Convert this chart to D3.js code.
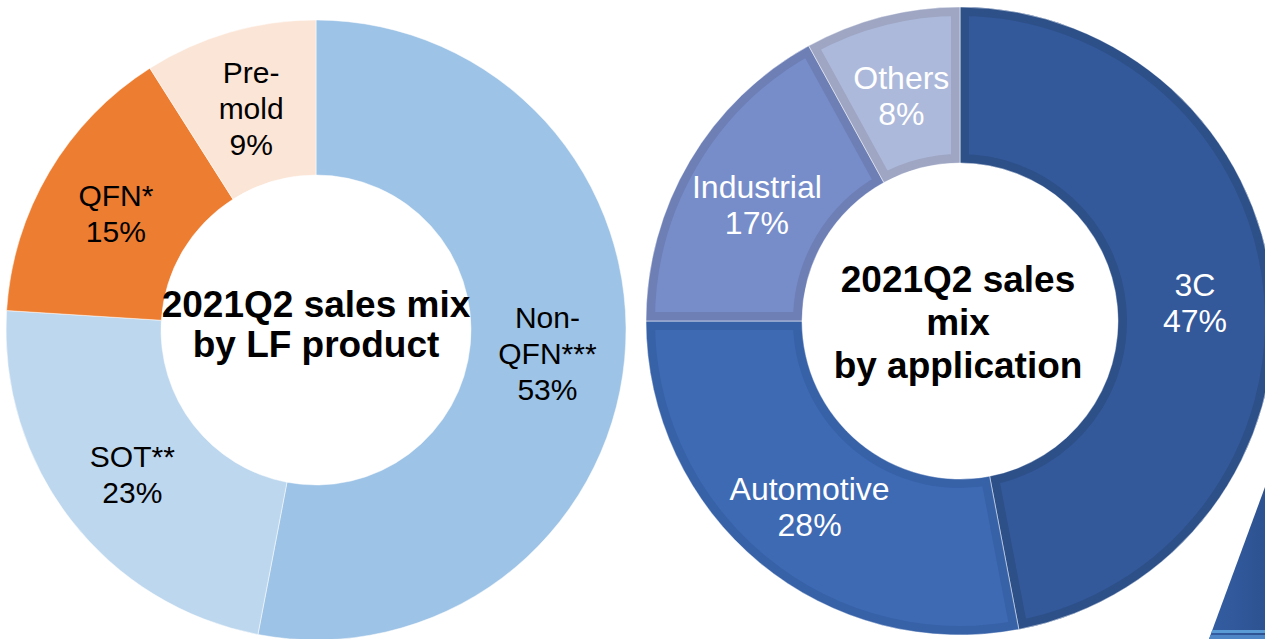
<!DOCTYPE html>
<html>
<head>
    <title>2021Q2 sales mix</title>
    <style type="text/css">
        html, body {
            margin: 0;
            padding: 0;
            background: #ffffff;
            overflow: hidden;
        }

        text {
            font-family: "Liberation Sans", Arial, sans-serif;
        }

        .slice-label {
            font-size: 30px;
            text-anchor: middle;
        }

        .center-title {
            font-size: 37px;
            font-weight: bold;
            text-anchor: middle;
            fill: #000;
        }
    </style>
</head>
<body>
    <div id="chart"></div>
    <script src="https://d3js.org/d3.v7.min.js"></script>
    <script>

      //  Left donut: sales mix by leadframe product
      var lfCategories = ["Non-QFN***", "SOT**", "QFN*", "Pre-mold"];
      var lfShares = [53, 23, 15, 9];
      var lfLabelLines = [["Non-", "QFN***"], ["SOT**"], ["QFN*"], ["Pre-", "mold"]];
      var lfColors = ["#9dc3e6", "#bdd7ee", "#ed7d31", "#fbe5d6"];

      //  Right donut: sales mix by application
      var appCategories = ["3C", "Automotive", "Industrial", "Others"];
      var appShares = [47, 28, 17, 8];
      var appColors = ["#34599a", "#3e6ab4", "#778dca", "#adb9db"];
      var appBorders = ["#2d5089", "#3762a8", "#6e7fb6", "#9ea6c3"];

      var width = 1265,
          height = 639;

      var svg = d3.select("#chart")
                  .append("svg")
                  .attr("width", width)
                  .attr("height", height);

      var defs = svg.append("defs");

      var pie = d3.pie()
                  .sort(null)
                  .value(function (d) { return d.value; });

      //  ---------- left donut ----------
      var lfData = lfCategories.map(function (c, i) {
        return { name: c, value: lfShares[i], lines: lfLabelLines[i], color: lfColors[i] };
      });

      var lfArc = d3.arc().innerRadius(155).outerRadius(310);

      var left = svg.append("g").attr("transform", "translate(316,330)");

      left.selectAll("path.slice")
          .data(pie(lfData))
          .enter().append("path")
          .attr("class", "slice")
          .attr("d", lfArc)
          .attr("fill", function (d) { return d.data.color; })
          .attr("stroke", "#ffffff")
          .attr("stroke-width", 0.5);

      left.selectAll("text.slice-label")
          .data(pie(lfData))
          .enter().append("text")
          .attr("class", "slice-label")
          .attr("fill", "#000")
          .each(function (d) {
            var c = lfArc.centroid(d),
                lines = d.data.lines.concat([d.data.value + "%"]),
                n = lines.length,
                t = d3.select(this);
            lines.forEach(function (line, k) {
              t.append("tspan")
               .attr("x", c[0])
               .attr("y", c[1] + (k - (n - 1) / 2) * 36 + 12)
               .text(line);
            });
          });

      var leftTitle = ["2021Q2 sales mix", "by LF product"];
      left.selectAll("text.center-title")
          .data(leftTitle)
          .enter().append("text")
          .attr("class", "center-title")
          .attr("x", 0)
          .attr("y", function (d, i) { return -13 + i * 40; })
          .text(function (d) { return d; });

      //  ---------- right donut ----------
      var appData = appCategories.map(function (c, i) {
        return { name: c, value: appShares[i], color: appColors[i], border: appBorders[i] };
      });

      var appArc = d3.arc().innerRadius(158).outerRadius(314);

      var right = svg.append("g").attr("transform", "translate(960,321)");

      var appSlices = right.selectAll("g.app-slice")
          .data(pie(appData))
          .enter().append("g")
          .attr("class", "app-slice");

      //  Each slice gets a clip of its own shape so a wide stroke becomes an inner bevel band
      appSlices.each(function (d, i) {
        defs.append("clipPath")
            .attr("id", "app-clip-" + i)
            .append("path")
            .attr("d", appArc(d));
      });

      appSlices.append("path")
          .attr("d", appArc)
          .attr("fill", function (d) { return d.data.color; })
          .attr("stroke", function (d) { return d.data.border; })
          .attr("stroke-width", 18)
          .attr("clip-path", function (d, i) { return "url(#app-clip-" + i + ")"; });

      appSlices.append("path")
          .attr("d", appArc)
          .attr("fill", "none")
          .attr("stroke", "#ffffff")
          .attr("stroke-opacity", 0.5)
          .attr("stroke-width", 1);

      right.selectAll("text.slice-label")
          .data(pie(appData))
          .enter().append("text")
          .attr("class", "slice-label")
          .attr("fill", "#ffffff")
          .style("font-size", "32px")
          .each(function (d) {
            var c = appArc.centroid(d),
                lines = [d.data.name, d.data.value + "%"],
                t = d3.select(this);
            lines.forEach(function (line, k) {
              t.append("tspan")
               .attr("x", c[0])
               .attr("y", c[1] + (k - 0.5) * 36 + 15)
               .text(line);
            });
          });

      var rightTitle = ["2021Q2 sales", "mix", "by application"];
      right.selectAll("text.center-title")
          .data(rightTitle)
          .enter().append("text")
          .attr("class", "center-title")
          .attr("x", -2)
          .attr("y", function (d, i) { return -29 + i * 43; })
          .text(function (d) { return d; });

      //  ---------- decorative slide corner ----------
      var grad = defs.append("linearGradient")
          .attr("id", "corner-grad")
          .attr("x1", "0").attr("x2", "1").attr("y1", "0").attr("y2", "0");
      grad.append("stop").attr("offset", "0").attr("stop-color", "#3560a6");
      grad.append("stop").attr("offset", "1").attr("stop-color", "#2d5291");

      defs.append("clipPath")
          .attr("id", "corner-clip")
          .append("polygon")
          .attr("points", "1265,487 1265,639 1209,639");

      var corner = svg.append("g").attr("clip-path", "url(#corner-clip)");
      corner.append("rect")
          .attr("x", 1200).attr("y", 480).attr("width", 65).attr("height", 160)
          .attr("fill", "url(#corner-grad)");
      corner.append("rect")
          .attr("x", 1200).attr("y", 630).attr("width", 65).attr("height", 3)
          .attr("fill", "#5b9bd5");
      corner.append("rect")
          .attr("x", 1200).attr("y", 635).attr("width", 65).attr("height", 4)
          .attr("fill", "#4f86c6");

    </script>
</body>
</html>
